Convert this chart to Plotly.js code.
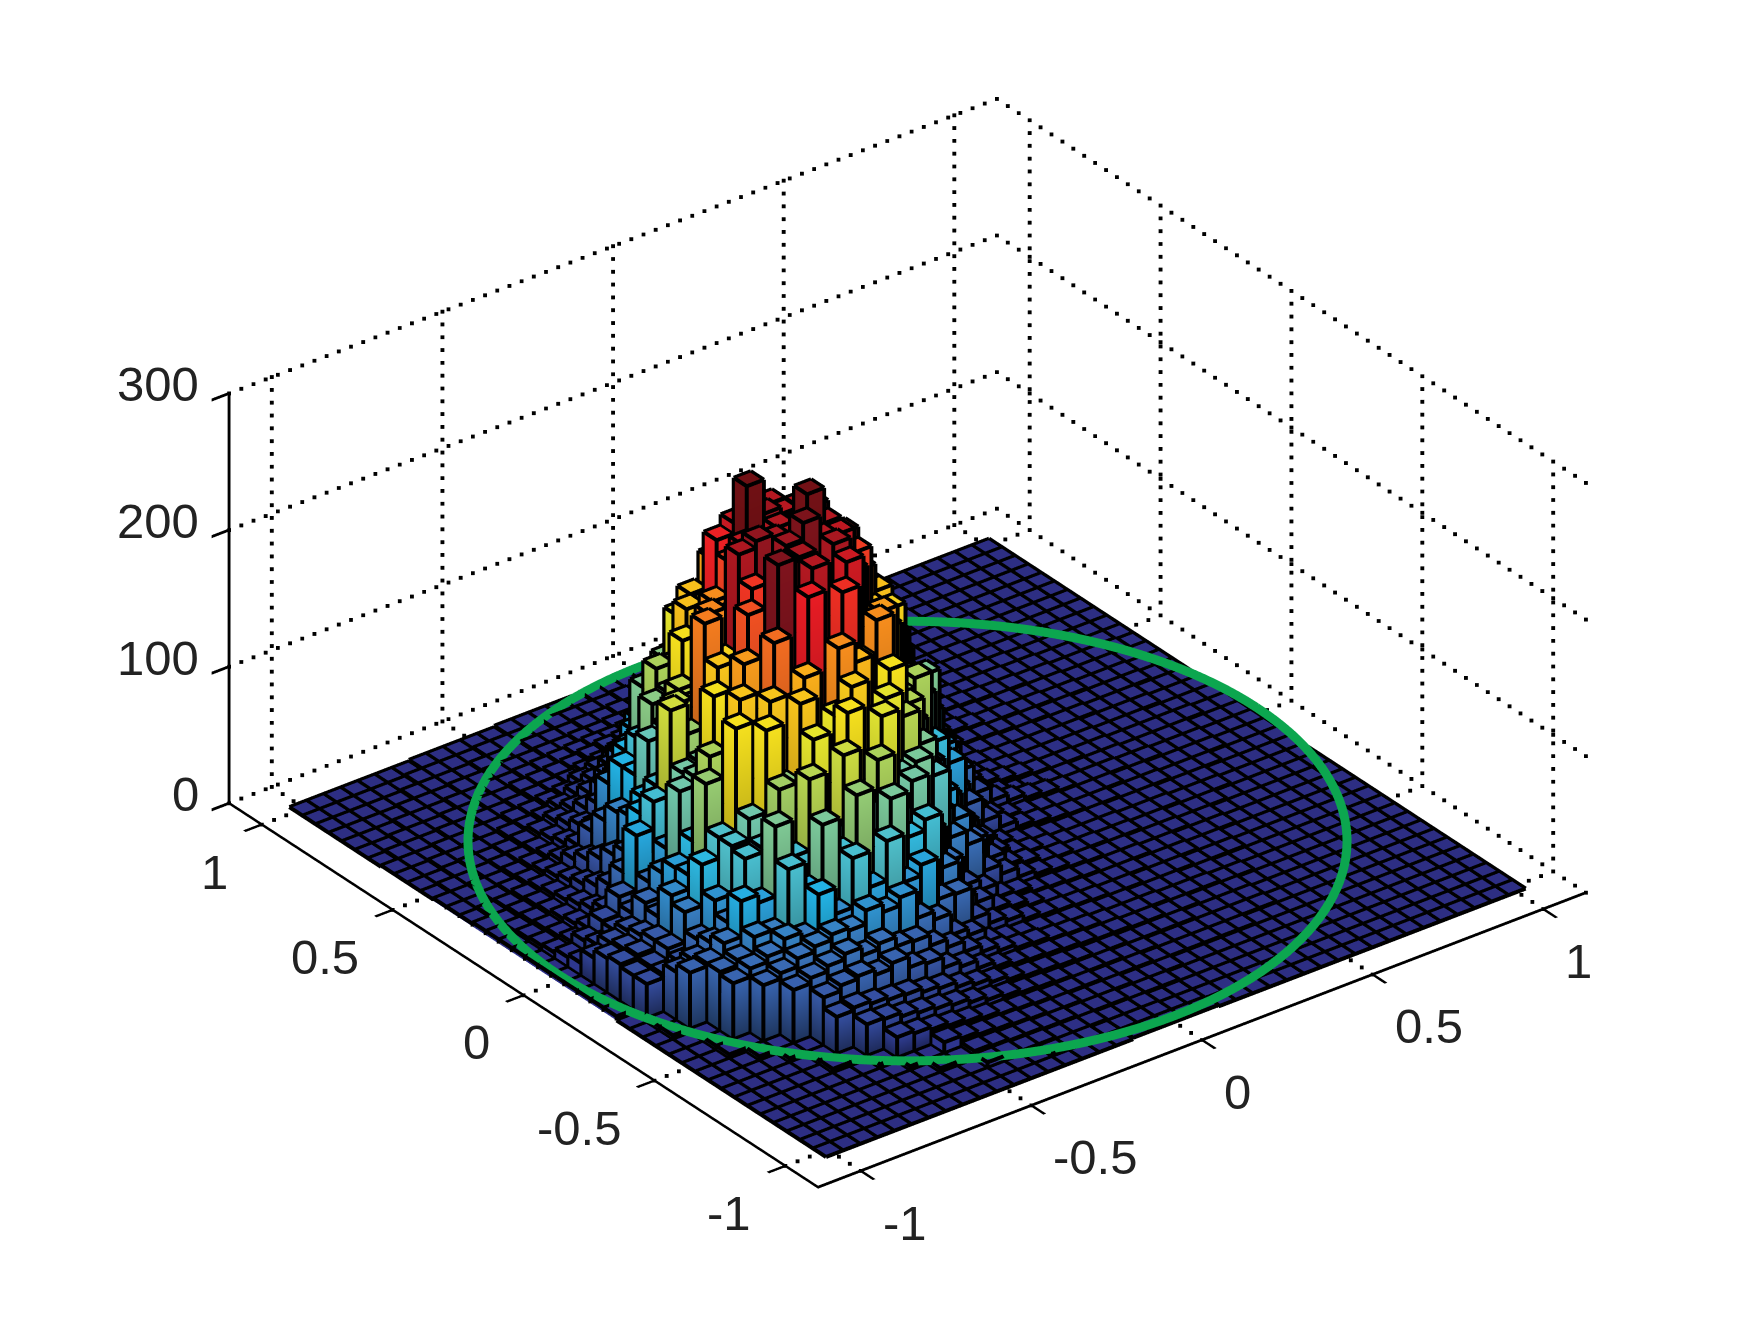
<!DOCTYPE html>
<html><head><meta charset="utf-8">
<script src="https://cdn.plot.ly/plotly-3.0.1.min.js"></script>
<style>html,body{margin:0;padding:0;background:#fff}#g{width:1750px;height:1337px}</style></head>
<body><div id="g"></div>
<script>
const binCenters = Array.from({length:41},(_,i)=>-1+i*0.05);
const tickVals = [-1,-0.5,0,0.5,1];
const tickText = ['-1','-0.5','0','0.5','1'];
const zTicks = [0,100,200,300];
const circleRadius = 1.022;
const counts = [
[0,0,0,0,0,0,0,0,0,0,0,0,0,0,0,0,0,0,1,1,1,1,1,0,0,0,0,0,0,0,0,0,0,0,0,0,0,0,0,0,0],
[0,0,0,0,0,0,0,0,0,0,0,0,0,0,2,2,2,1,1,1,1,0,0,0,0,0,0,0,0,0,0,0,0,0,0,0,0,0,0,0,0],
[0,0,0,0,0,0,0,0,0,0,0,4,4,3,3,2,2,2,1,1,1,0,0,0,0,0,0,0,0,0,0,0,0,0,0,0,0,0,0,0,0],
[0,0,0,0,0,0,0,0,0,3,3,6,5,4,4,3,3,2,2,2,1,1,1,0,0,0,0,0,0,0,0,0,0,0,0,0,0,0,0,0,0],
[0,0,0,0,0,0,0,0,3,3,11,9,7,6,5,4,3,3,2,2,2,1,1,1,0,0,0,0,0,0,0,0,0,0,0,0,0,0,0,0,0],
[0,0,0,0,0,0,0,3,18,16,14,12,10,8,6,5,4,3,3,3,2,2,2,1,1,1,1,1,1,0,0,0,0,0,0,0,0,0,0,0,0],
[0,0,0,0,0,3,3,26,25,22,20,18,16,13,10,8,6,5,4,3,3,3,2,2,1,1,1,1,1,1,1,0,0,0,0,0,0,0,0,0,0],
[0,0,0,0,0,3,30,32,30,28,27,24,22,18,15,12,9,7,6,5,4,3,3,2,2,2,2,1,1,1,1,0,0,0,0,0,0,0,0,0,0],
[0,0,0,0,3,3,38,42,44,40,44,36,34,26,22,16,12,9,8,7,6,5,4,4,3,3,2,2,1,1,1,0,0,0,0,0,0,0,0,0,0],
[0,0,0,3,3,42,46,50,54,48,52,45,44,36,30,22,17,13,10,9,7,6,5,4,3,3,3,2,2,2,1,1,0,0,0,0,0,0,0,0,0],
[0,0,3,3,44,48,54,58,62,60,70,64,70,50,44,28,23,13,10,8,7,5,5,4,3,3,2,2,2,1,1,0,0,0,0,0,0,0,0,0,0],
[0,0,3,44,50,54,62,58,85,66,102,76,105,70,78,48,47,24,16,13,9,7,6,5,4,3,3,2,2,2,1,1,1,0,0,0,0,0,0,0,0],
[0,0,3,46,50,62,60,102,82,125,100,137,96,125,92,100,60,32,25,15,12,8,6,5,4,3,3,3,2,2,2,1,1,0,0,0,0,0,0,0,0],
[0,3,44,46,56,82,76,127,100,152,110,160,118,147,104,122,80,53,31,23,13,11,7,6,5,4,3,3,3,2,2,1,1,1,0,0,0,0,0,0,0],
[0,3,38,42,50,60,102,105,143,125,170,135,180,128,168,120,125,110,60,50,26,19,12,9,7,5,4,3,3,2,2,2,1,1,0,0,0,0,0,0,0],
[0,28,30,34,46,70,105,120,180,135,190,150,172,188,128,170,152,127,72,62,42,24,14,11,7,6,4,4,3,3,2,2,1,1,1,0,0,0,0,0,0],
[3,28,30,38,60,90,105,180,140,190,160,198,150,210,195,160,180,150,100,75,50,27,17,11,8,6,4,3,3,3,2,2,2,1,1,1,0,0,0,0,0],
[3,30,32,38,66,76,138,120,190,180,222,185,246,190,240,185,210,140,125,90,60,36,20,12,8,6,4,3,3,3,2,2,2,1,1,1,0,0,0,0,0],
[3,28,30,35,44,75,90,147,130,205,170,268,215,256,218,251,200,205,140,147,95,75,40,23,14,9,7,5,4,3,3,2,2,2,1,1,1,0,0,0,0],
[3,22,28,32,48,65,120,125,180,170,230,205,256,258,222,258,233,180,182,122,122,70,45,26,15,10,7,5,4,3,3,3,2,2,1,1,1,1,0,0,0],
[3,12,20,26,34,52,72,122,125,190,175,238,215,260,272,256,254,236,190,185,130,127,70,47,26,16,11,8,6,4,3,3,3,2,2,1,1,1,0,0,0],
[3,10,17,27,40,80,100,162,140,216,185,257,262,258,250,282,256,244,212,192,155,105,88,55,25,15,9,5,4,3,3,2,2,2,1,1,1,1,0,0,0],
[3,7,10,15,24,47,85,100,155,150,212,205,253,250,256,252,262,240,214,192,162,130,94,50,28,17,11,8,6,4,3,3,2,2,1,1,1,1,1,0,0],
[3,6,8,12,18,31,50,85,90,155,150,210,234,285,260,255,256,234,210,184,158,125,86,47,26,15,10,7,5,4,3,3,2,2,1,1,1,0,0,0,0],
[3,5,7,10,15,24,42,65,116,120,180,175,244,252,254,256,241,228,200,172,147,112,80,40,24,14,9,7,5,4,3,3,2,2,1,1,1,1,0,0,0],
[3,4,6,8,12,19,33,62,85,132,135,192,190,228,242,248,240,210,192,160,135,105,62,35,20,13,8,6,5,4,3,3,2,2,2,1,1,1,0,0,0],
[3,3,5,7,10,15,26,50,85,100,147,145,192,180,222,227,225,210,195,168,147,118,82,50,28,17,11,8,6,5,4,3,3,2,2,1,1,1,1,0,0],
[2,3,4,6,8,12,20,36,66,85,127,125,170,160,202,206,205,198,185,168,150,130,100,66,38,24,15,11,8,6,4,4,3,3,2,2,1,1,1,0,0],
[2,2,3,4,6,9,13,19,28,47,78,90,132,125,166,150,186,175,163,147,130,105,75,47,28,18,12,9,7,5,4,3,3,2,2,2,1,1,1,0,0],
[2,2,3,3,5,7,9,14,22,33,50,78,105,122,137,150,155,160,150,140,125,107,78,52,33,21,14,10,8,6,5,4,3,3,2,2,1,1,1,1,0],
[1,2,2,3,4,5,7,11,17,24,35,53,75,97,113,120,128,135,125,113,100,75,53,35,23,16,11,9,7,5,4,3,3,3,2,2,1,1,1,0,0],
[1,1,2,3,3,4,6,9,13,17,24,32,47,62,78,90,97,102,95,78,62,47,35,23,17,12,9,7,6,5,3,3,2,2,2,1,1,1,0,0,0],
[1,1,2,2,3,3,5,6,8,12,17,22,28,38,44,53,62,60,66,52,38,28,22,17,12,9,8,6,5,4,3,3,2,2,1,1,1,1,0,0,0],
[1,1,1,2,2,3,3,5,6,8,10,15,19,23,27,30,31,33,30,27,23,19,15,11,10,8,6,5,4,3,3,2,2,2,1,1,1,0,0,0,0],
[0,1,1,1,2,2,3,3,4,6,7,8,11,13,16,19,20,22,21,19,16,13,11,9,8,7,6,5,3,3,2,2,1,1,1,1,0,0,0,0,0],
[0,0,1,1,1,2,2,3,3,5,6,7,8,10,12,13,14,15,16,14,13,12,9,8,7,6,5,4,3,3,2,2,1,1,1,0,0,0,0,0,0],
[0,0,0,1,1,1,2,2,3,3,4,5,6,7,8,8,9,10,11,9,8,8,7,6,6,5,4,3,3,2,2,1,1,1,1,0,0,0,0,0,0],
[0,0,0,0,1,1,1,2,2,3,3,3,4,4,5,5,6,6,7,6,5,5,4,4,4,3,3,2,2,2,1,1,1,1,0,0,0,0,0,0,0],
[0,0,0,0,0,1,1,1,1,2,2,2,3,3,3,4,4,5,4,4,3,3,3,2,2,2,2,1,1,1,1,1,0,0,0,0,0,0,0,0,0],
[0,0,0,0,0,0,1,1,1,1,2,2,2,2,3,3,3,3,4,3,3,3,2,2,2,2,1,1,1,1,1,0,0,0,0,0,0,0,0,0,0],
[0,0,0,0,0,0,0,1,1,1,1,1,2,2,2,2,2,3,2,2,2,2,2,1,1,1,1,1,1,0,0,0,0,0,0,0,0,0,0,0,0]
];
const colorStops = [0,0.03,0.12,0.2,0.3,0.4,0.5,0.62,0.7,0.78,0.86,0.93,1];
const colorRGB = [[45,46,131],[45,50,140],[55,85,165],[58,120,190],[35,180,230],[100,198,190],[160,205,100],[244,233,31],[249,170,26],[242,107,33],[237,28,36],[130,20,30],[112,16,20]];

const half=0.025, zMax=285, shade=0.5;
function colorAt(v,f){
  const t=Math.min(1,v/zMax);let n=0;
  while(n<colorStops.length-2&&t>colorStops[n+1])n++;
  const u=(t-colorStops[n])/(colorStops[n+1]-colorStops[n]);
  const c=colorRGB[n].map((a,m)=>Math.round((a+(colorRGB[n+1][m]-a)*u)*f));
  return 'rgb('+c.join(',')+')';
}
const X=[],Y=[],Z=[],I=[],J=[],K=[],VC=[];
const lx=[],ly=[],lz=[];
const ex=-0.0021, ey=-0.0028, ez=0.6;
function seg(a,b,c,d,e,f){lx.push(a+ex,d+ex,null);ly.push(b+ey,e+ey,null);lz.push(c+ez,f+ez,null);}
counts.forEach((row,j)=>{row.forEach((v,i)=>{
  const x0=binCenters[i]-half,x1=binCenters[i]+half,y0=binCenters[j]-half,y1=binCenters[j]+half;
  const n=X.length, cs=[[x0,y0],[x1,y0],[x1,y1],[x0,y1]];
  const top=colorAt(v,1), bot=colorAt(v,v>12?shade:1);
  cs.forEach(p=>{X.push(p[0]);Y.push(p[1]);Z.push(0);VC.push(bot);});
  cs.forEach(p=>{X.push(p[0]);Y.push(p[1]);Z.push(v);VC.push(top);});
  const q=(a,b,c,d)=>{I.push(n+a,n+a);J.push(n+b,n+c);K.push(n+c,n+d);};
  q(4,5,6,7);
  if(v>0){q(0,1,5,4);q(1,2,6,5);q(2,3,7,6);q(3,0,4,7);}
  seg(x0,y0,v,x1,y0,v);seg(x1,y0,v,x1,y1,v);seg(x1,y1,v,x0,y1,v);seg(x0,y1,v,x0,y0,v);
  if(v>0){cs.forEach(p=>seg(p[0],p[1],0,p[0],p[1],v));}
});});

const R=1.125, zTop=300;
const dx=[],dy=[],dz=[];
function dots(a,b,c,d,e,f){
  const pxLen=Math.hypot((d-a)*365,(e-b)*312,(f-c)*1.37);
  const N=Math.round(pxLen/13);
  for(let n=0;n<=N;n++){
    const x=a+(d-a)*n/N,y=b+(e-b)*n/N,z=c+(f-c)*n/N;
    if(z===0&&Math.abs(x)<1.035&&Math.abs(y)<1.035)continue;
    dx.push(x);dy.push(y);dz.push(z);
  }
}
tickVals.forEach(t=>{
  dots(t,-R,0,t,R,0); dots(-R,t,0,R,t,0);
  dots(t,R,0,t,R,zTop); dots(R,t,0,R,t,zTop);
});
zTicks.forEach(t=>{ dots(-R,R,t,R,R,t); dots(R,-R,t,R,R,t); });

const ann=[];
const fnt={family:'Liberation Sans, Arial, sans-serif',size:49,color:'#222'};
tickVals.forEach((t,n)=>{
  ann.push({x:t,y:-R,z:0,text:tickText[n],showarrow:false,xanchor:'left',yanchor:'middle',xshift:20,yshift:-52,font:fnt});
  ann.push({x:-R,y:t,z:0,text:tickText[n],showarrow:false,xanchor:'right',yanchor:'middle',xshift:-32,yshift:-47,font:fnt});
});
zTicks.forEach(t=>ann.push({x:-R,y:R,z:t,text:String(t),showarrow:false,xanchor:'right',yanchor:'middle',xshift:-28,yshift:9,font:fnt}));

const th=Array.from({length:181},(_,i)=>i*2*Math.PI/180);
const ax=()=>({tickvals:tickVals,range:[-R,R],showgrid:false,zeroline:false,showline:true,linecolor:'#000',linewidth:6,ticks:'outside',ticklen:22,tickwidth:6,tickcolor:'#000',showticklabels:false,title:{text:''},showbackground:false,showspikes:false});
Plotly.newPlot('g',[
 {type:'mesh3d',x:X,y:Y,z:Z,i:I,j:J,k:K,vertexcolor:VC,lighting:{ambient:1,diffuse:0,specular:0,roughness:1,fresnel:0},hoverinfo:'skip'},
 {type:'scatter3d',mode:'lines',x:lx,y:ly,z:lz,line:{color:'#000',width:8},hoverinfo:'skip',connectgaps:false},
 {type:'scatter3d',mode:'markers',x:dx,y:dy,z:dz,marker:{color:'#000',size:2,symbol:'square',line:{width:0}},hoverinfo:'skip'},
 {type:'scatter3d',mode:'lines',x:th.map(t=>circleRadius*Math.cos(t)),y:th.map(t=>circleRadius*Math.sin(t)),z:th.map(()=>5),line:{color:'#0ca64f',width:18},hoverinfo:'skip'}
],{
 width:1750,height:1337,showlegend:false,paper_bgcolor:'#fff',margin:{l:0,r:0,t:0,b:0},
 scene:{domain:{x:[0.0372,1],y:[0.0381,1]},aspectmode:'manual',aspectratio:{x:1.505,y:1.505,z:0.736},
  camera:{projection:{type:'orthographic'},eye:{x:-0.685,y:-0.893,z:0.65},center:{x:0,y:0,z:0},up:{x:0,y:0,z:1}},
  annotations:ann,
  xaxis:ax(),yaxis:ax(),zaxis:Object.assign(ax(),{tickvals:zTicks,range:[0,zTop]})}
},{displayModeBar:false});
</script></body></html>
